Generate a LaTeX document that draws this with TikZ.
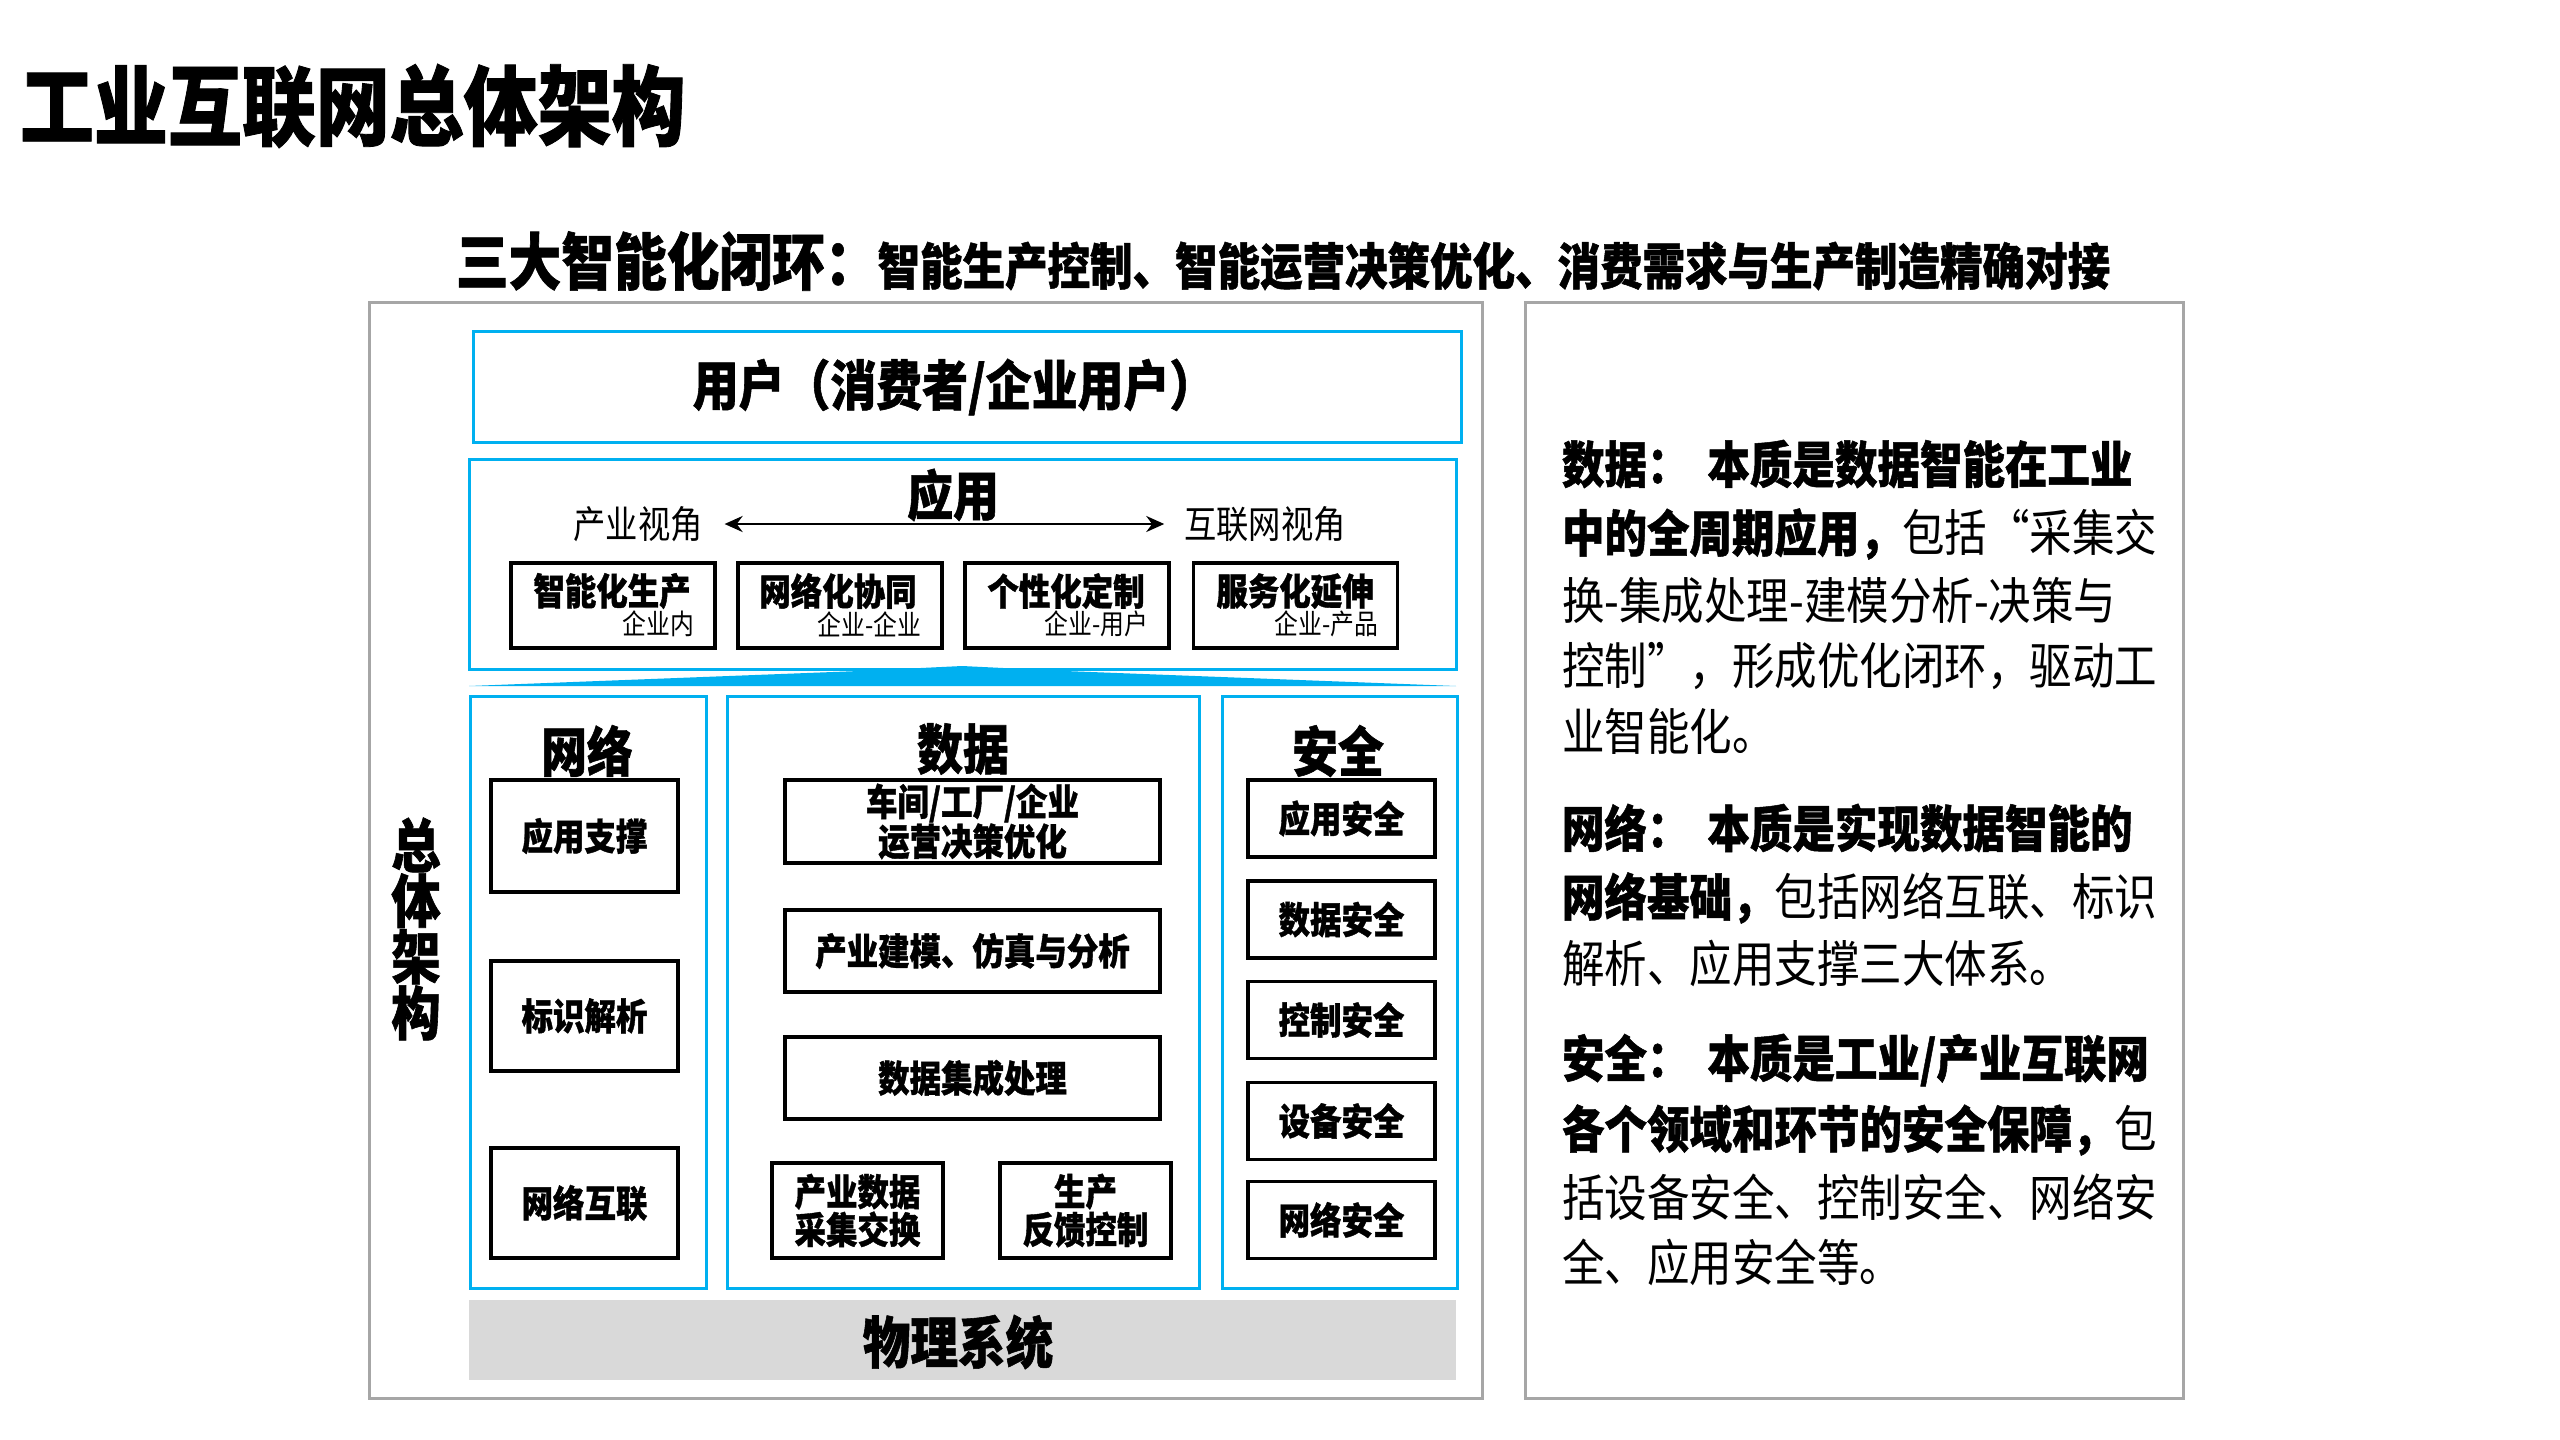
\documentclass[tikz,border=0pt]{standalone}
\usepackage{fontspec}
\setmainfont{Noto Sans CJK SC}[FakeStretch=0.85, BoldFeatures={FakeBold=1}]
\usetikzlibrary{arrows.meta}
\definecolor{cblue}{HTML}{00B0F0}
\definecolor{cgray}{HTML}{A6A6A6}
\definecolor{cfill}{HTML}{D9D9D9}
\newcommand{\myfs}[2]{\fontsize{#1}{#2}\selectfont}
\tikzset{
  every node/.style={inner sep=0pt, outer sep=0pt},
  bx/.style 2 args={minimum width=#1pt, minimum height=#2pt},
  graybox/.style={draw=cgray, line width=3pt},
  bluebox/.style={draw=cblue, line width=3pt},
  blkbox/.style={draw=black, line width=3.5pt, align=center, font=\bfseries\myfs{37}{38}},
  head/.style={font=\bfseries\myfs{54}{60}},
  apptext/.style={font=\bfseries\myfs{37}{40}},
  appsub/.style={anchor=east, font=\myfs{28}{30}},
  rt/.style={anchor=west, font=\myfs{50}{60}},
}
\begin{document}
\begin{tikzpicture}[x=1pt,y=-1pt]
\useasboundingbox (0,0) rectangle (2560,1440);
\fill[white] (0,0) rectangle (2560,1440);

% titles
\node[anchor=west, font=\bfseries\myfs{87}{100}] (title) at (20,106) {工业互联网总体架构};
\node[font=\bfseries] (sub) at (1283,261) {{\myfs{62}{70}三大智能化闭环：}{\myfs{50}{60}智能生产控制、智能运营决策优化、消费需求与生产制造精确对接}};

% outer frames
\node[graybox, bx={1113}{1096}] (leftframe) at (925.5,850) {};
\node[graybox, bx={658}{1096}] (rightframe) at (1854,850) {};

% vertical label
\node[font=\bfseries\myfs{58}{52}, align=center] (vlabel) at (416,929) {总\\体\\架\\构};

% user box
\node[bluebox, bx={988}{111}] (user) at (967,386.5) {};
\node[font=\bfseries\myfs{54}{60}] (usert) at (954,387) {用户（消费者/企业用户）};

% application box
\node[bluebox, bx={987}{210}] (app) at (962.5,564) {};
\node[head] (appt) at (953,495) {应用};
\node[font=\myfs{38}{40}] (pv) at (638,524) {产业视角};
\node[font=\myfs{38}{40}] (iv) at (1265,524) {互联网视角};
\draw[line width=2.5pt, {Stealth[length=18pt,width=16pt]}-{Stealth[length=18pt,width=16pt]}] ([xshift=22pt]pv.east) -- ([xshift=-20pt]iv.west);

\node[draw=black, line width=3.5pt, bx={204}{85}] (a1) at (613,605.5) {};
\node[draw=black, line width=3.5pt, bx={204}{85}] (a2) at (840,605.5) {};
\node[draw=black, line width=3.5pt, bx={204}{85}] (a3) at (1067,605.5) {};
\node[draw=black, line width=3.5pt, bx={204}{85}] (a4) at (1295.5,605.5) {};
\node[apptext] (a1t) at (612,591) {智能化生产};
\node[apptext] (a2t) at (838,591) {网络化协同};
\node[apptext] (a3t) at (1066,591) {个性化定制};
\node[apptext] (a4t) at (1295,591) {服务化延伸};
\node[appsub] (a1s) at (694,624) {企业内};
\node[appsub] (a2s) at (921,624) {企业-企业};
\node[appsub] (a3s) at (1148,624) {企业-用户};
\node[appsub] (a4s) at (1378,624) {企业-产品};

% wedge
\fill[cblue] (469,686) -- (859,671) -- (962,666) -- (1065,671) -- (1456,686) -- cycle;

% columns
\node[bluebox, bx={236}{592}] (colnet) at (588,992) {};
\node[bluebox, bx={472}{592}] (coldata) at (963,992) {};
\node[bluebox, bx={235}{592}] (colsec) at (1339.5,992) {};
\node[head] (nett) at (587,751) {网络};
\node[head] (datat) at (963,749) {数据};
\node[head] (sect) at (1338,751) {安全};

% network boxes
\node[blkbox, bx={187}{112}] (n1b) at (584.5,836) {应用支撑};
\node[blkbox, bx={187}{110}] (n2b) at (584.5,1016) {标识解析};
\node[blkbox, bx={187}{110}] (n3b) at (584.5,1203) {网络互联};

% data boxes
\node[blkbox, bx={375}{83}] (d1b) at (972.5,821.5) {车间/工厂/企业\\运营决策优化};
\node[blkbox, bx={375}{82}] (d2b) at (972.5,951) {产业建模、仿真与分析};
\node[blkbox, bx={375}{82}] (d3b) at (972.5,1078) {数据集成处理};
\node[blkbox, bx={171}{95}] (d4b) at (857.5,1210.5) {产业数据\\采集交换};
\node[blkbox, bx={171}{95}] (d5b) at (1085.5,1210.5) {生产\\反馈控制};

% security boxes
\node[blkbox, bx={187}{77}] (s1b) at (1341.5,818.5) {应用安全};
\node[blkbox, bx={187}{77}] (s2b) at (1341.5,919.5) {数据安全};
\node[blkbox, bx={187}{77}] (s3b) at (1341.5,1020) {控制安全};
\node[blkbox, bx={187}{77}] (s4b) at (1341.5,1121) {设备安全};
\node[blkbox, bx={187}{77}] (s5b) at (1341.5,1220) {网络安全};

% physical system
\node[fill=cfill, bx={987}{80}] (phys) at (962.5,1340) {};
\node[font=\bfseries\myfs{56}{60}] (physt) at (958,1342) {物理系统};

% right text
\node[rt] (r1) at (1562,464) {\textbf{数据：\hspace{18pt}本质是数据智能在工业}};
\node[rt] (r2) at (1562,534) {\textbf{中的全周期应用，}包括“采集交};
\node[rt] (r3) at (1562,601) {换-集成处理-建模分析-决策与};
\node[rt] (r4) at (1562,666) {控制”，形成优化闭环，驱动工};
\node[rt] (r5) at (1562,731) {业智能化。};
\node[rt] (r6) at (1562,828) {\textbf{网络：\hspace{18pt}本质是实现数据智能的}};
\node[rt] (r7) at (1562,898) {\textbf{网络基础，}包括网络互联、标识};
\node[rt] (r8) at (1562,963) {解析、应用支撑三大体系。};
\node[rt] (r9) at (1562,1060) {\textbf{安全：\hspace{18pt}本质是工业/产业互联网}};
\node[rt] (r10) at (1562,1130) {\textbf{各个领域和环节的安全保障，}包};
\node[rt] (r11) at (1562,1197) {括设备安全、控制安全、网络安};
\node[rt] (r12) at (1562,1262) {全、应用安全等。};
\end{tikzpicture}
\end{document}
